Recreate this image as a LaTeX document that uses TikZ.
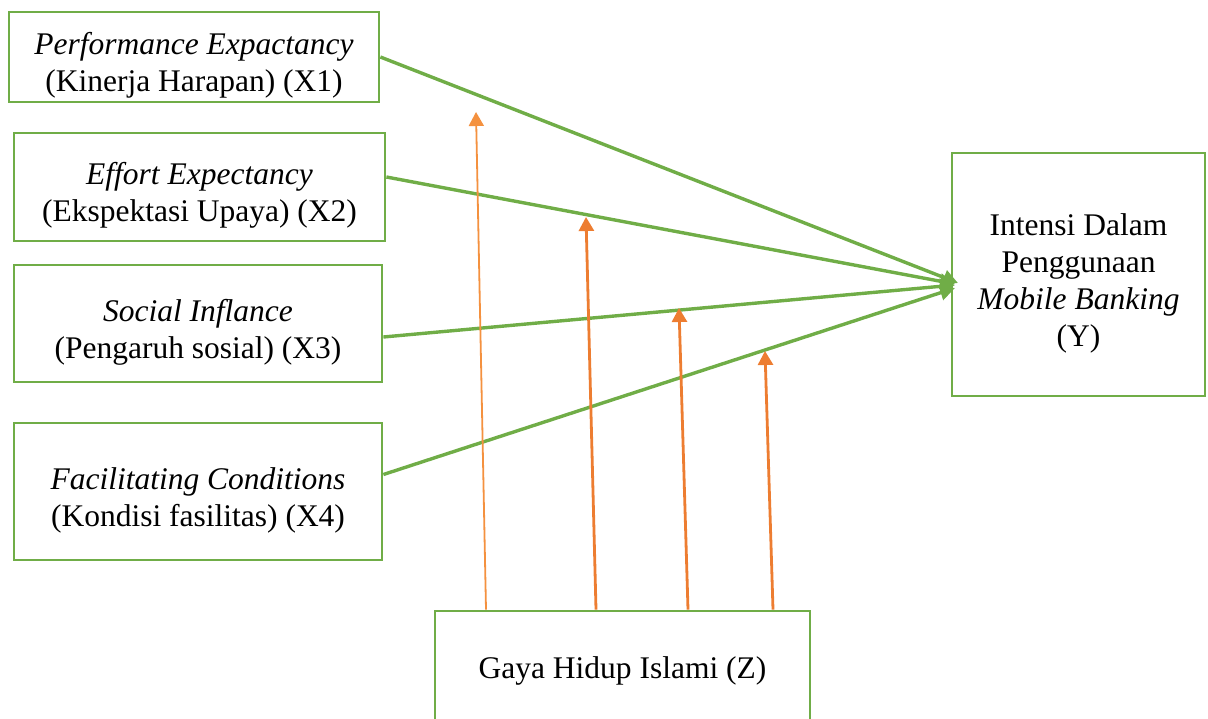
\documentclass[tikz,border=0pt]{standalone}
\usepackage{fontspec}
\setmainfont{Liberation Serif}
\usetikzlibrary{arrows.meta}
\definecolor{boxgreen}{HTML}{70AD47}
\definecolor{arrorange}{HTML}{ED7D31}
\definecolor{lightorange}{HTML}{F4913F}
\newcommand{\topstrut}{\rule{0pt}{39pt}}
\begin{document}
\begin{tikzpicture}[x=1pt,y=-1pt,
  varbox/.style={draw=boxgreen,line width=2.8pt,rectangle,inner sep=0pt,align=center,
    font=\fontsize{31.5}{37}\selectfont},
  mainpath/.style={draw=boxgreen,line width=3.4pt,-{Triangle[length=15pt,width=15pt]}},
  modpath/.style={draw=arrorange,line width=2.8pt,-{Triangle[length=14pt,width=15pt]}},
  modthin/.style={draw=lightorange,line width=1.8pt,-{Triangle[length=14pt,width=15pt]}}]
\useasboundingbox (0,0) rectangle (1208,718);
\node[varbox,minimum width=370pt,minimum height=90pt] (x1) at (194,57)
  {\topstrut\textit{Performance Expactancy}\\(Kinerja Harapan) (X1)};
\node[varbox,minimum width=371pt,minimum height=108pt] (x2) at (199.5,187)
  {\topstrut\textit{Effort Expectancy}\\(Ekspektasi Upaya) (X2)};
\node[varbox,minimum width=368pt,minimum height=117pt] (x3) at (198,323.5)
  {\topstrut\textit{Social Inflance}\\(Pengaruh sosial) (X3)};
\node[varbox,minimum width=368pt,minimum height=137pt] (x4) at (198,491.5)
  {\topstrut\textit{Facilitating Conditions}\\(Kondisi fasilitas) (X4)};
\node[varbox,minimum width=253pt,minimum height=243pt] (y) at (1078.5,274.5)
  {\topstrut Intensi Dalam\\Penggunaan\\\textit{Mobile Banking}\\(Y)};
\node[varbox,minimum width=375pt,minimum height=120pt] (z) at (622.5,671)
  {Gaya Hidup Islami (Z)};
\coordinate (t1) at (958,283);
\coordinate (t2) at (955,284);
\coordinate (t3) at (955,285);
\coordinate (t4) at (955,288);
\coordinate (m1) at (476,112);
\coordinate (m2) at (586,217);
\coordinate (m3) at (679,308);
\coordinate (m4) at (765,351);
\draw[mainpath] (x1.east) -- (t1);
\draw[mainpath] ([yshift=10pt]x2.east) -- (t2);
\draw[mainpath] ([yshift=-13.5pt]x3.east) -- (t3);
\draw[mainpath] ([yshift=17pt]x4.east) -- (t4);
\draw[modthin] ([xshift=-136.5pt]z.north) -- (m1);
\draw[modpath] ([xshift=-26.5pt]z.north) -- (m2);
\draw[modpath] ([xshift=65.5pt]z.north) -- (m3);
\draw[modpath] ([xshift=150.5pt]z.north) -- (m4);
\end{tikzpicture}
\end{document}
